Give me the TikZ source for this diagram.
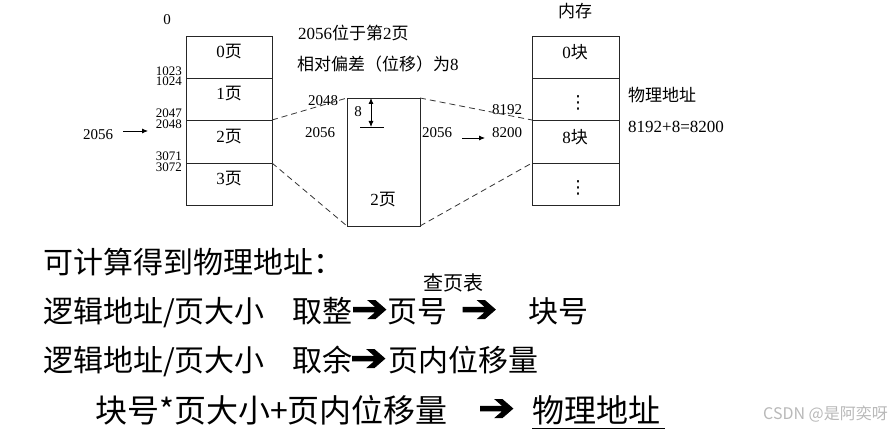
\documentclass[tikz,border=0pt]{standalone}
\usepackage{fontspec}
\setmainfont{Liberation Serif}
\newfontfamily\cjk{Noto Sans CJK SC}
\newfontfamily\symfont{DejaVu Sans}
\newfontfamily\arrowfont[FakeBold=2.5,FakeStretch=1.15]{DejaVu Sans}
\usetikzlibrary{arrows.meta}
\newcommand\zh[1]{{\cjk #1}}
\newcommand\fs[1]{\fontsize{#1}{#1}\selectfont}
\begin{document}
\begin{tikzpicture}[x=1pt,y=-1pt,
  boxline/.style={draw=black!85, line width=0.8pt},
  dashline/.style={draw=black!80, line width=0.8pt, dash pattern=on 6pt off 4pt},
  lbl/.style={inner sep=0pt, font=\fs{17}},
  addr/.style={inner sep=0pt, font=\fs{13}, anchor=east},
  num/.style={inner sep=0pt, font=\fs{15}},
  dots/.style={inner sep=0pt, font=\fs{18}\symfont},
  big/.style={inner sep=0pt, font=\fs{30}\cjk, anchor=base west},
  bigger/.style={inner sep=0pt, font=\fs{32}\cjk, anchor=base west},
  bigarrow/.style={inner sep=0pt, font=\fs{38}\arrowfont},
  ptr/.style={-{Latex[length=6pt,width=5pt]}, line width=0.8pt},
  wm/.style={inner sep=0pt, font=\fs{16}\cjk, text=black!28, anchor=west}]
\useasboundingbox (0,0) rectangle (896,430);

% ---------- left: logical pages ----------
\coordinate (L1) at (272,78);
\coordinate (L2) at (272,120);
\coordinate (L3) at (272,163);
\draw[boxline] (186,36) rectangle (272,205);
\draw[boxline] (186,78) -- (L1);
\draw[boxline] (186,120) -- (L2);
\draw[boxline] (186,163) -- (L3);
\node[lbl] (p0) at (229,52) {0\zh{页}};
\node[lbl] (p1) at (229,94) {1\zh{页}};
\node[lbl] (p2) at (229,137) {2\zh{页}};
\node[lbl] (p3) at (229,179) {3\zh{页}};
\node[num] (zero) at (167,20) {0};
\node[addr] (a1023) at (182,71) {1023};
\node[addr] (a1024) at (182,81.5) {1024};
\node[addr] (a2047) at (182,113) {2047};
\node[addr] (a2048) at (182,124) {2048};
\node[addr] (a3071) at (182,156) {3071};
\node[addr] (a3072) at (182,167) {3072};
\node[num] (la) at (98,135) {2056};
\coordinate (laS) at (123,131);
\coordinate (laE) at (148,131);
\draw[ptr] (laS) -- (laE);

% ---------- middle: page 2 ----------
\coordinate (M1) at (347,98);
\coordinate (M2) at (420,98);
\coordinate (M3) at (347,226);
\coordinate (M4) at (420,226);
\draw[boxline] (M1) rectangle (M4);
\node[lbl] (mp) at (383,200) {2\zh{页}};
\node[lbl, anchor=west] (t1) at (298,33) {2056\zh{位于第}2\zh{页}};
\node[lbl, anchor=west] (t2) at (297,64) {\zh{相对偏差（位移）为}8};
\node[num] (m2048) at (323,101) {2048};
\node[num] (m2056a) at (320,133) {2056};
\node[num] (m2056b) at (437,133) {2056};
\node[num] (m8) at (358,112) {8};
\node[num] (m8192) at (507,110) {8192};
\node[num] (m8200) at (507,133) {8200};
\coordinate (oA) at (371,98);
\coordinate (oB) at (371,127);
\coordinate (oL) at (360,127);
\coordinate (oR) at (384,127);
\draw[{Latex[length=6pt,width=5pt]}-{Latex[length=6pt,width=5pt]}, line width=0.8pt] (oA) -- (oB);
\draw[line width=0.8pt] (oL) -- (oR);
\coordinate (raS) at (462,138);
\coordinate (raE) at (485,138);
\draw[ptr] (raS) -- (raE);

% ---------- right: memory ----------
\coordinate (R1) at (532,120);
\coordinate (R2) at (532,163);
\draw[boxline] (532,36) rectangle (619,205);
\draw[boxline] (532,78) -- (619,78);
\draw[boxline] (R1) -- (619,120);
\draw[boxline] (R2) -- (619,163);
\node[lbl] (mem) at (575,11) {\zh{内存}};
\node[lbl] (b0) at (575,52) {0\zh{块}};
\node[dots] (d1) at (578,103) {⋮};
\node[lbl] (b8) at (575,137) {8\zh{块}};
\node[dots] (d2) at (578,188) {⋮};
\node[lbl, anchor=west] (phy) at (628,95) {\zh{物理地址}};
\node[lbl, anchor=west] (calc) at (628,127) {8192+8=8200};

% ---------- dashed mapping ----------
\draw[dashline] (L2) -- (M1);
\draw[dashline] (L3) -- (M3);
\draw[dashline] (M2) -- (R1);
\draw[dashline] (M4) -- (R2);

% ---------- bottom text ----------
\node[big] (s1) at (43,273) {可计算得到物理地址：};
\node[big] (s2a) at (43,322) {逻辑地址/页大小};
\node[big] (s2b) at (292,322) {取整};
\node[bigarrow] (s2c) at (369.5,311) {➔};
\node[big] (s2d) at (387,322) {页号};
\node[inner sep=0pt, font=\fs{20}\cjk, anchor=base west] (s2e) at (423,290) {查页表};
\node[bigarrow] (s2f) at (479,311) {➔};
\node[big] (s2g) at (528,322) {块号};
\node[big] (s3a) at (43,371) {逻辑地址/页大小};
\node[big] (s3b) at (292,371) {取余};
\node[bigarrow] (s3c) at (368.5,360) {➔};
\node[big] (s3d) at (388,371) {页内位移量};
\node[bigger] (s4a) at (95,422) {块号*页大小+页内位移量};
\node[bigarrow] (s4b) at (496.5,410) {➔};
\node[bigger] (s4c) at (532,422) {物理地址};
\coordinate (u1) at (532,428);
\coordinate (u2) at (665,428);
\draw[line width=1pt] (u1) -- (u2);

\node[wm] (wmk) at (763,414) {CSDN @是阿奕呀};
\end{tikzpicture}
\end{document}
